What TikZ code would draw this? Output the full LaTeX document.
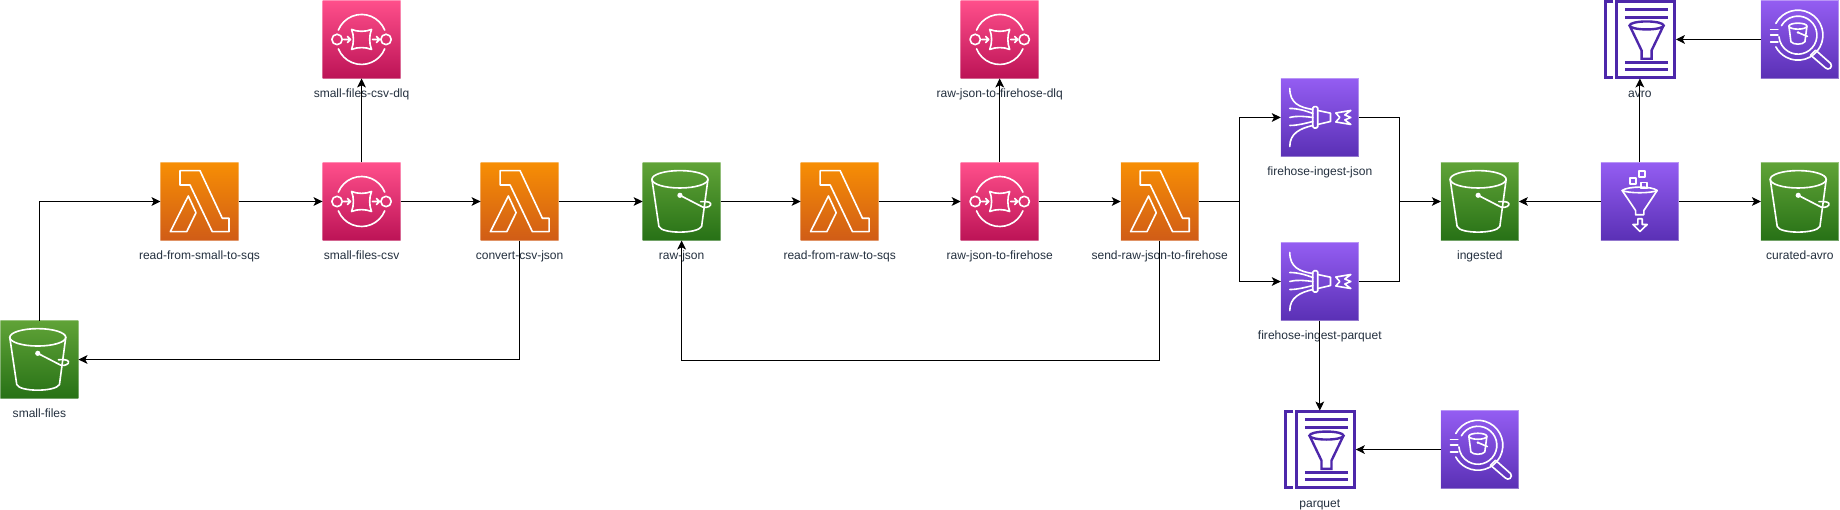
\documentclass[tikz,border=0pt]{standalone}
\usepackage{fontspec}
\setmainfont{Liberation Sans}
\usetikzlibrary{positioning, arrows.meta, calc}

\definecolor{labeltext}{HTML}{232F3E}
\definecolor{docpurple}{HTML}{4D27AA}
\definecolor{lambdatop}{HTML}{F78E04}
\definecolor{lambdabot}{HTML}{D05C17}
\definecolor{sqstop}{HTML}{FF4F8B}
\definecolor{sqsbot}{HTML}{BC1356}
\definecolor{buckettop}{HTML}{60A337}
\definecolor{bucketbot}{HTML}{277116}
\definecolor{purpletop}{HTML}{945DF2}
\definecolor{purplebot}{HTML}{5A30B5}

\tikzset{
    icon/.style={draw=white, line width=1.15pt, line join=round, line cap=round},
    docicon/.style={draw=docpurple, line width=2.1pt},
    pics/lambdaicon/.style={code={
        \draw[icon] (-19.5,30.8) -- (0.5,30.8) -- (22.8,-16.8) -- (29.5,-16.8) -- (29.5,-30.2)
            -- (12.8,-30.2) -- (-9.5,16.5) -- (-19.5,16.5) -- cycle;
        \draw[icon] (-11.2,5.5) -- (-3.5,-11.2) -- (-12.8,-30.2) -- (-29.2,-30.2) -- cycle;
    }},
    pics/sqsicon/.style={code={
        \draw[icon] (22:25) arc (22:158:25);
        \draw[icon] (-22:25) arc (-22:-158:25);
        \draw[icon] (-24.5,0) circle (5.2);
        \draw[icon] (24.5,0) circle (5.2);
        \draw[icon] (-18,0) -- (-11,0) (-14,3) -- (-11,0) -- (-14,-3);
        \draw[icon] (11,0) -- (18,0) (15,3) -- (18,0) -- (15,-3);
        \draw[icon] (-10,10) .. controls (-4,7.5) and (4,7.5) .. (10,10)
            .. controls (7.5,4) and (7.5,-4) .. (10,-10)
            .. controls (4,-7.5) and (-4,-7.5) .. (-10,-10)
            .. controls (-7.5,-4) and (-7.5,4) .. (-10,10) -- cycle;
    }},
    pics/bucketicon/.style={code={
        \draw[icon] (-1.7,22.2) ellipse (28 and 8.7);
        \draw[icon] (-29.7,22.2) -- (-22.7,-25) .. controls (-20,-32.5) and (16,-32.5) .. (20,-25) -- (26.3,22.2);
        \fill[white] (-1.7,6.2) circle (2.6);
        \draw[icon] (-1.7,6.2) -- (21,-5.5) .. controls (26,-7) and (30,-4) .. (29,-2) .. controls (28,0) and (24,0) .. (19,-0.2);
    }},
    pics/firehoseicon/.style={code={
        \draw[icon] (-30,29) .. controls (-30,14) and (-20,10) .. (-7,8);
        \draw[icon] (-30,-29) .. controls (-30,-16) and (-20,-11) .. (-7,-8);
        \draw[icon] (-30,9) .. controls (-22,9) and (-15,7) .. (-7,4);
        \draw[icon] (-30,0) .. controls (-22,2) and (-15,1) .. (-7,0);
        \draw[icon] (-30,-8) .. controls (-22,-8) and (-15,-6) .. (-7,-4);
        \draw[icon, rounded corners=1pt] (-7,10.8) rectangle (-2,-10.5);
        \draw[icon] (-2,7) -- (10.7,4.3) -- (10.7,-4) -- (-2,-7);
        \draw[icon] (16,4.5) -- (31,7) -- (25,2.5) -- (31,0) -- (25,-2.5) -- (31,-7) -- (16,-4.5) -- (20,0) -- cycle;
    }},
    pics/glueicon/.style={code={
        \draw[icon] (-17.7,11) .. controls (-12,15.5) and (12,15.5) .. (17.3,11) -- (4,-9) -- (4,-13.3) -- (-4.3,-13.3) -- (-4.3,-9) -- cycle;
        \draw[icon] (-17.7,11) .. controls (-12,8) and (12,8) .. (17.3,11);
        \draw[icon] (-10,17.3) rectangle (-4,23.3);
        \draw[icon] (-0.7,24.7) rectangle (5.3,30.7);
        \draw[icon] (1.3,13) rectangle (7.3,19);
        \draw[icon] (-2,-17.3) -- (2.3,-17.3) -- (2.3,-23) -- (7.3,-23) -- (0,-30) -- (-7,-23) -- (-2,-23) -- cycle;
    }},
    pics/athenaicon/.style={code={
        \draw[icon] (-2,4.3) ++(152:25) arc (152:-152:25);
        \draw[icon] (-2,4.3) ++(150:19) arc (150:-175:19);
        \draw[icon] (-29.3,10) -- (-22,10);
        \draw[icon] (-29.3,4.3) -- (-22,4.3);
        \draw[icon] (-29.3,-2.3) -- (-22,-2.3);
        \draw[icon] (-2,13.3) ellipse (9 and 3);
        \draw[icon] (-11,13.3) -- (-9,-2.3) .. controls (-7,-5.5) and (3,-5.5) .. (5,-2.3) -- (7,13.3);
        \fill[white] (-2,7) circle (1.3);
        \draw[icon] (-2,7) -- (7.5,3);
        \draw[icon] (10.7,-15.7) -- (15.7,-10.7) -- (30.7,-24) arc (40:-140:3.4) -- cycle;
    }},
    pics/queryicon/.style={code={
        \draw[docicon] (-23.3,-37.6) rectangle (35,37.6);
        \draw[docicon] (-26.5,37.6) -- (-34.7,37.6) -- (-34.7,-37.6) -- (-26.5,-37.6);
        \draw[docicon] (-15,30) -- (27.7,30) (-15,22.3) -- (27.7,22.3);
        \draw[docicon] (-15,-22.7) -- (27.7,-22.7) (-15,-30.3) -- (27.7,-30.3);
        \draw[docicon, line width=1.7pt] (6.7,14) ellipse (17 and 4);
        \draw[docicon, line width=1.7pt] (-10.3,14) -- (1.7,-11) -- (1.7,-19.3) -- (11.7,-19.3) -- (11.7,-11) -- (23.7,14);
    }}
}

\begin{document}
\begin{tikzpicture}[
    x=.025cm, y=.025cm,
    node distance=2.1cm and 2.05cm,
    tile/.style={rectangle, minimum size=1.95cm, inner sep=0pt, outer sep=0pt, draw=white, draw opacity=.35, line width=.7pt},
    lambdatile/.style={tile, top color=lambdatop, bottom color=lambdabot},
    sqstile/.style={tile, top color=sqstop, bottom color=sqsbot},
    buckettile/.style={tile, top color=buckettop, bottom color=bucketbot},
    purpletile/.style={tile, top color=purpletop, bottom color=purplebot},
    querynode/.style={rectangle, minimum width=1.8cm, minimum height=1.95cm, inner sep=0pt, outer sep=0pt},
    svclabel/.style={text=labeltext, font=\fontsize{8.55}{10}\selectfont, inner sep=0pt, text height=6.6pt, text depth=1.8pt},
    myarrow/.style={-{Stealth[length=6.4pt, width=6.2pt, inset=1.6pt]}, line width=.72pt},
    myline/.style={line width=.72pt}
]

    \useasboundingbox (0,0) rectangle (1840,510);

    % main row
    \node[lambdatile] (readsmall) at (199.5,308.5) {};
    \node[sqstile, right=of readsmall, xshift=.05cm] (smallcsv) {};
    \node[lambdatile, right=of smallcsv, xshift=-.05cm] (convert) {};
    \node[buckettile, right=of convert, xshift=.05cm] (rawjson) {};
    \node[lambdatile, right=of rawjson, xshift=-.05cm] (readraw) {};
    \node[sqstile, right=of readraw] (rawfirehose) {};
    \node[lambdatile, right=of rawfirehose] (sendraw) {};
    \node[purpletile, right=of sendraw, yshift=2.1cm] (fhjson) {};
    \node[purpletile, right=of sendraw, yshift=-2cm] (fhparquet) {};
    \node[buckettile, right=of sendraw, xshift=4cm] (ingested) {};
    \node[purpletile, right=of ingested] (gluejob) {};
    \node[buckettile, right=of gluejob] (curated) {};

    \node[buckettile, below left=of readsmall, yshift=.1cm] (smallfiles) {};
    \node[sqstile, above=of smallcsv] (smalldlq) {};
    \node[sqstile, above=of rawfirehose] (rawdlq) {};
    \node[querynode, above=of gluejob] (avro) {};
    \node[purpletile, above=of curated] (athenaavro) {};
    \node[querynode, below=of fhparquet, yshift=-.15cm] (parquet) {};
    \node[purpletile, right=of parquet, xshift=.075cm] (athenaparquet) {};

    \pic at (readsmall) {lambdaicon};
    \pic at (convert) {lambdaicon};
    \pic at (readraw) {lambdaicon};
    \pic at (sendraw) {lambdaicon};
    \pic at (smallcsv) {sqsicon};
    \pic at (smalldlq) {sqsicon};
    \pic at (rawfirehose) {sqsicon};
    \pic at (rawdlq) {sqsicon};
    \pic at (smallfiles) {bucketicon};
    \pic at (rawjson) {bucketicon};
    \pic at (ingested) {bucketicon};
    \pic at (curated) {bucketicon};
    \pic at (fhjson) {firehoseicon};
    \pic at (fhparquet) {firehoseicon};
    \pic at (gluejob) {glueicon};
    \pic at (athenaavro) {athenaicon};
    \pic at (athenaparquet) {athenaicon};
    \pic at (avro) {queryicon};
    \pic at (parquet) {queryicon};

    % labels
    \node[svclabel, below=.225cm of readsmall] (readsmalltext) {read-from-small-to-sqs};
    \node[svclabel, below=.225cm of smallcsv] (smallcsvtext) {small-files-csv};
    \node[svclabel, below=.225cm of convert] (converttext) {convert-csv-json};
    \node[svclabel, below=.225cm of rawjson] (rawjsontext) {raw-json};
    \node[svclabel, below=.225cm of readraw] (readrawtext) {read-from-raw-to-sqs};
    \node[svclabel, below=.225cm of rawfirehose] (rawfirehosetext) {raw-json-to-firehose};
    \node[svclabel, below=.225cm of sendraw] (sendrawtext) {send-raw-json-to-firehose};
    \node[svclabel, below=.225cm of fhjson] (fhjsontext) {firehose-ingest-json};
    \node[svclabel, below=.225cm of fhparquet] (fhparquettext) {firehose-ingest-parquet};
    \node[svclabel, below=.225cm of ingested] (ingestedtext) {ingested};
    \node[svclabel, below=.225cm of curated] (curatedtext) {curated-avro};
    \node[svclabel, below=.225cm of smallfiles] (smallfilestext) {small-files};
    \node[svclabel, below=.225cm of smalldlq] (smalldlqtext) {small-files-csv-dlq};
    \node[svclabel, below=.225cm of rawdlq] (rawdlqtext) {raw-json-to-firehose-dlq};
    \node[svclabel, below=.225cm of avro] (avrotext) {avro};
    \node[svclabel, below=.225cm of parquet] (parquettext) {parquet};

    \coordinate (fork) at ($(sendraw.east)+(41,0)$);
    \coordinate (merge) at ($(ingested.west)+(-41,0)$);
    \coordinate (looplow) at ($(rawjson.south)+(0,-120)$);

    \draw[myarrow] (smallfiles) |- (readsmall);
    \draw[myarrow] (readsmall) -- (smallcsv);
    \draw[myarrow] (smallcsv) -- (convert);
    \draw[myarrow] (smallcsv) -- (smalldlq);
    \draw[myarrow] (convert) -- (rawjson);
    \draw[myarrow] (convert) |- (smallfiles);

    \draw[myarrow] (rawjson) -- (readraw);
    \draw[myarrow] (readraw) -- (rawfirehose);
    \draw[myarrow] (rawfirehose) -- (sendraw);
    \draw[myarrow] (rawfirehose) -- (rawdlq);
    \draw[myarrow] (sendraw) |- (looplow) -- (rawjson);

    \draw[myline] (sendraw) -- (fork);
    \draw[myarrow] (fork) |- (fhjson);
    \draw[myarrow] (fork) |- (fhparquet);
    \draw[myline] (fhjson) -| (merge);
    \draw[myline] (fhparquet) -| (merge);
    \draw[myarrow] (merge) -- (ingested);
    \draw[myarrow] (fhparquet) -- (parquet);

    \draw[myarrow] (gluejob) -- (ingested);
    \draw[myarrow] (gluejob) -- (curated);
    \draw[myarrow] (gluejob) -- (avro);
    \draw[myarrow] (athenaavro) -- (avro);
    \draw[myarrow] (athenaparquet) -- (parquet);

\end{tikzpicture}
\end{document}
